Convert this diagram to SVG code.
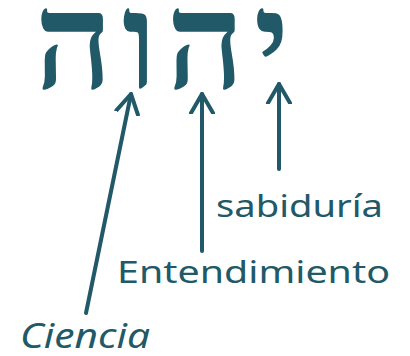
<svg xmlns="http://www.w3.org/2000/svg" width="410" height="356" viewBox="0 0 410 356">
<style>
.t{fill:#215968;}
.lbl{font-family:"Noto Sans","DejaVu Sans",sans-serif;}
.heb{font-family:"Liberation Serif","DejaVu Serif",serif;font-weight:bold;}
.c{stroke:#215968;stroke-width:4;fill:none;stroke-linecap:round;}
</style>
<defs>
<marker id="ah" markerUnits="userSpaceOnUse" markerWidth="30" markerHeight="30" refX="20" refY="15" orient="auto">
<path d="M1,4 L20,15 L1,26" fill="none" stroke="#215968" stroke-width="4" stroke-linecap="round" stroke-linejoin="round"/>
</marker>
</defs>
<rect width="410" height="356" fill="#ffffff"/>
<g id="name">
<text class="t heb" x="162" y="88" font-size="136" text-anchor="middle" textLength="255" lengthAdjust="spacing">יהוה</text>
</g>
<g id="connectors">
<line class="c" x1="86" y1="313" x2="131" y2="94" marker-end="url(#ah)"/>
<line class="c" x1="202" y1="251" x2="202" y2="94" marker-end="url(#ah)"/>
<line class="c" x1="279" y1="169" x2="279" y2="84" marker-end="url(#ah)"/>
</g>
<g id="sabiduria">
<text class="t lbl" x="216" y="217" font-size="30" textLength="167" lengthAdjust="spacingAndGlyphs">sabiduría</text>
</g>
<g id="entendimiento">
<text class="t lbl" x="117" y="283" font-size="31" textLength="273" lengthAdjust="spacingAndGlyphs">Entendimiento</text>
</g>
<g id="ciencia">
<text class="t lbl" x="20" y="348" font-size="35" font-style="italic" textLength="130" lengthAdjust="spacingAndGlyphs">Ciencia</text>
</g>
</svg>
